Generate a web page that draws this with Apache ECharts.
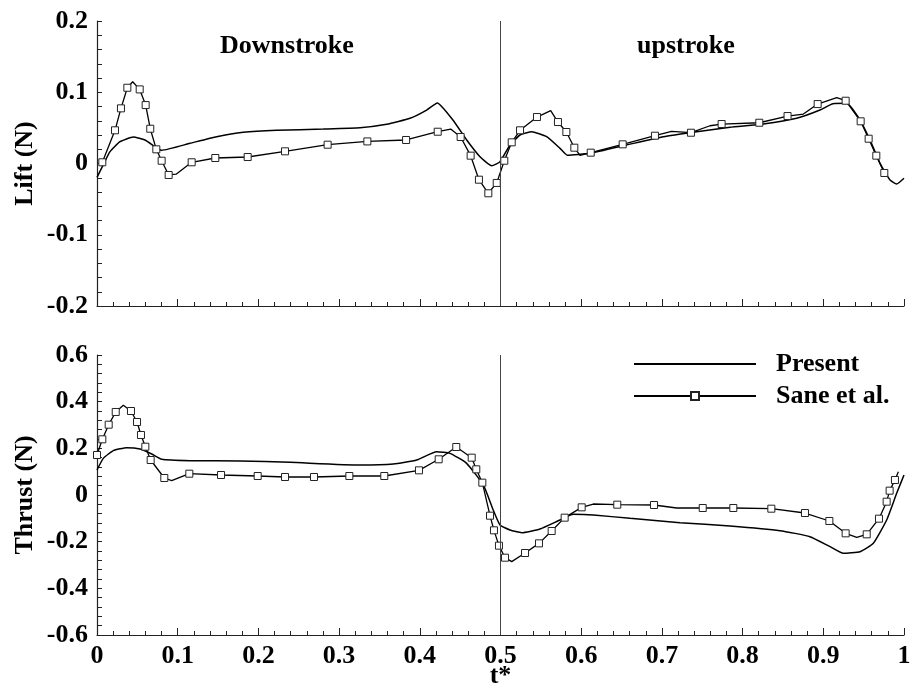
<!DOCTYPE html>
<html>
<head>
<meta charset="utf-8">
<script src="https://cdn.jsdelivr.net/npm/echarts@6/dist/echarts.min.js"></script>
<style>
html,body{margin:0;padding:0;background:#fff;}
#chart{width:914px;height:698px;}
</style>
</head>
<body>
<div id="chart"></div>
<script>
// ---- x ticks ----
const xTicks = [0, 0.1, 0.2, 0.3, 0.4, 0.5, 0.6, 0.7, 0.8, 0.9, 1];
const liftTicks = [-0.2, -0.1, 0, 0.1, 0.2];
const thrustTicks = [-0.6, -0.4, -0.2, 0, 0.2, 0.4, 0.6];
const seriesNames = ['Present', 'Sane et al.'];
const phaseLabels = ['Downstroke', 'upstroke'];

// ---- Lift: Present ----
const presentLiftT = [0, 0.0066, 0.0161, 0.0285, 0.045, 0.0595, 0.0719, 0.0801, 0.1152, 0.1483, 0.1813, 0.2226, 0.2804, 0.3259, 0.359, 0.3879, 0.4085, 0.4217, 0.441, 0.4581, 0.4746, 0.4891, 0.4994, 0.5118, 0.5242, 0.5386, 0.5572, 0.5737, 0.5828, 0.6109, 0.6564, 0.7018, 0.7431, 0.7844, 0.8257, 0.867, 0.8959, 0.912, 0.929, 0.9455, 0.9579, 0.9703, 0.9827, 0.9909, 1.0];
const presentLiftV = [-0.0194, -0.0045, 0.0166, 0.0306, 0.0372, 0.033, 0.0236, 0.0185, 0.0283, 0.0376, 0.0437, 0.0466, 0.0484, 0.0502, 0.055, 0.0634, 0.075, 0.0849, 0.061, 0.033, 0.0095, -0.0032, 0.0025, 0.026, 0.04, 0.0446, 0.0376, 0.0213, 0.0115, 0.0143, 0.026, 0.0376, 0.0446, 0.0508, 0.0554, 0.0634, 0.075, 0.084, 0.0844, 0.061, 0.033, 0.0003, -0.0231, -0.0288, -0.0208];

// ---- Lift: Sane et al. (mark = 1 where a square marker is drawn) ----
const saneLiftT = [0.0066, 0.0223, 0.0297, 0.0376, 0.0442, 0.0529, 0.0603, 0.066, 0.0735, 0.0801, 0.0888, 0.098, 0.1173, 0.1466, 0.1867, 0.233, 0.2858, 0.335, 0.383, 0.4222, 0.4383, 0.4506, 0.463, 0.4733, 0.4849, 0.4953, 0.5047, 0.5139, 0.5242, 0.5452, 0.5622, 0.5712, 0.5816, 0.5915, 0.5985, 0.6118, 0.6514, 0.6914, 0.712, 0.736, 0.7596, 0.774, 0.8207, 0.8557, 0.8753, 0.893, 0.9166, 0.9277, 0.9463, 0.9562, 0.9657, 0.9756];
const saneLiftV = [0.0017, 0.0466, 0.0774, 0.1063, 0.1147, 0.104, 0.082, 0.0488, 0.0199, 0.0039, -0.0161, -0.015, 0.0017, 0.0077, 0.0091, 0.0171, 0.0264, 0.031, 0.033, 0.0446, 0.0484, 0.0372, 0.011, -0.0227, -0.0418, -0.0273, 0.0039, 0.0297, 0.0466, 0.0652, 0.0741, 0.0582, 0.0442, 0.0222, 0.0115, 0.0152, 0.0269, 0.039, 0.0452, 0.0432, 0.053, 0.0554, 0.0572, 0.0666, 0.0694, 0.0834, 0.0923, 0.0881, 0.0592, 0.0348, 0.011, -0.0133];
const saneLiftMark = [1, 1, 1, 1, 0, 1, 1, 1, 1, 1, 1, 0, 1, 1, 1, 1, 1, 1, 1, 1, 0, 1, 1, 1, 1, 1, 1, 1, 1, 1, 0, 1, 1, 1, 0, 1, 1, 1, 0, 1, 0, 1, 1, 1, 0, 1, 0, 1, 1, 1, 1, 1];

// ---- Thrust: Present ----
const presentThrustT = [0, 0.0078, 0.0202, 0.0368, 0.0533, 0.0678, 0.0801, 0.1152, 0.1772, 0.2392, 0.3259, 0.3672, 0.3961, 0.4209, 0.4374, 0.458, 0.4787, 0.491, 0.4994, 0.5118, 0.5262, 0.5489, 0.5737, 0.5902, 0.615, 0.6605, 0.7224, 0.7844, 0.8463, 0.8835, 0.9083, 0.9248, 0.9455, 0.962, 0.9785, 0.9909, 1.0];
const presentThrustV = [0.107, 0.157, 0.19, 0.2029, 0.1971, 0.1757, 0.153, 0.147, 0.1457, 0.14, 0.1286, 0.1329, 0.15, 0.1857, 0.1786, 0.1357, 0.0429, -0.0643, -0.1286, -0.15, -0.1614, -0.1457, -0.1071, -0.0829, -0.0857, -0.1, -0.1186, -0.1329, -0.1529, -0.1786, -0.2214, -0.25, -0.2429, -0.2072, -0.1071, 0.0071, 0.0857];

// ---- Thrust: Sane et al. ----
const saneThrustT = [0, 0.0066, 0.0145, 0.0232, 0.0326, 0.0421, 0.0496, 0.0545, 0.0599, 0.0665, 0.0834, 0.0925, 0.1144, 0.1537, 0.1991, 0.233, 0.2689, 0.3127, 0.356, 0.399, 0.4234, 0.4452, 0.4643, 0.47, 0.4775, 0.487, 0.4919, 0.4981, 0.5056, 0.5139, 0.5304, 0.5477, 0.5634, 0.5795, 0.6006, 0.615, 0.6447, 0.6902, 0.7183, 0.7506, 0.7885, 0.8356, 0.8773, 0.9075, 0.9277, 0.9414, 0.9538, 0.969, 0.9785, 0.9822, 0.9888, 0.993];
const saneThrustV = [0.1714, 0.2386, 0.3014, 0.3558, 0.3843, 0.36, 0.3129, 0.2572, 0.207, 0.15, 0.0729, 0.0613, 0.0913, 0.0857, 0.0814, 0.0772, 0.0772, 0.0814, 0.0814, 0.1057, 0.153, 0.2057, 0.16, 0.11, 0.0529, -0.0886, -0.1514, -0.2171, -0.2686, -0.2857, -0.2486, -0.2072, -0.1543, -0.0971, -0.0529, -0.0386, -0.0414, -0.0429, -0.0557, -0.0557, -0.0557, -0.0586, -0.0772, -0.1114, -0.1643, -0.1814, -0.1686, -0.1014, -0.0286, 0.0186, 0.0643, 0.1];
const saneThrustMark = [1, 1, 1, 1, 0, 1, 1, 1, 1, 1, 1, 0, 1, 1, 1, 1, 1, 1, 1, 1, 1, 1, 1, 1, 1, 1, 1, 1, 1, 0, 1, 1, 1, 1, 1, 0, 1, 1, 0, 1, 1, 1, 1, 1, 1, 0, 1, 1, 1, 1, 1, 0];

// ---- build ----
const FONT = "'Liberation Serif', 'Times New Roman', serif";
function pairs(t, v) { return t.map((x, i) => [x, v[i]]); }
function marked(t, v, m) {
  return t.map((x, i) => m[i] ? [x, v[i]] : { value: [x, v[i]], symbol: 'none' });
}
function fmt(v) { return String(Math.round(v * 10) / 10); }

function xAxisCfg(gridIndex, showLabels) {
  return {
    type: 'value', gridIndex: gridIndex, min: xTicks[0], max: xTicks[xTicks.length - 1], interval: 0.1,
    axisLine: { show: true, onZero: false, lineStyle: { color: '#222', width: 1.2 } },
    axisTick: { show: true, inside: true, length: 7, lineStyle: { color: '#222', width: 1 } },
    minorTick: { show: true, splitNumber: 5, length: 4, lineStyle: { color: '#222', width: 1 } },
    splitLine: { show: false },
    axisLabel: { show: showLabels, margin: 8, fontFamily: FONT, fontWeight: 'bold', fontSize: 26, color: '#000', formatter: fmt, showMinLabel: true, showMaxLabel: true },
    name: showLabels ? 't*' : '', nameLocation: 'middle', nameGap: 28, nameMoveOverlap: false,
    nameTextStyle: { fontFamily: FONT, fontWeight: 'bold', fontSize: 26, color: '#000' }
  };
}
function yAxisCfg(gridIndex, ticks, interval, name) {
  return {
    type: 'value', gridIndex: gridIndex, min: ticks[0], max: ticks[ticks.length - 1], interval: interval,
    axisLine: { show: true, onZero: false, lineStyle: { color: '#222', width: 1.2 } },
    axisTick: { show: true, inside: true, length: 5, lineStyle: { color: '#222', width: 1 } },
    minorTick: { show: true, splitNumber: 5, length: 5, lineStyle: { color: '#222', width: 1 } },
    splitLine: { show: false },
    axisLabel: { margin: 9, fontFamily: FONT, fontWeight: 'bold', fontSize: 26, color: '#000', formatter: fmt },
    name: name, nameLocation: 'middle', nameGap: 59, nameRotate: 90, nameMoveOverlap: false,
    nameTextStyle: { fontFamily: FONT, fontWeight: 'bold', fontSize: 26, color: '#000' }
  };
}
const vline = {
  silent: true, symbol: ['none', 'none'], label: { show: false },
  lineStyle: { color: '#444', width: 1, type: 'solid' },
  data: [{ xAxis: 0.5 }], animation: false
};
function presentSeries(xi, data) {
  return { name: seriesNames[0], type: 'line', xAxisIndex: xi, yAxisIndex: xi, data: data,
    symbol: 'none', showSymbol: false, smooth: 0.15, lineStyle: { color: '#000', width: 1.5 },
    itemStyle: { color: '#000' }, markLine: vline, z: 3 };
}
function saneSeries(xi, data) {
  return { name: seriesNames[1], type: 'line', xAxisIndex: xi, yAxisIndex: xi, data: data,
    symbol: 'rect', symbolSize: 7, showSymbol: true, showAllSymbol: true, smooth: false,
    lineStyle: { color: '#000', width: 1.3 },
    itemStyle: { color: '#fff', borderColor: '#222', borderWidth: 1 }, z: 4 };
}

const chart = echarts.init(document.getElementById('chart'), null, { renderer: 'canvas' });
chart.setOption({
  animation: false,
  backgroundColor: '#fff',
  grid: [
    { left: 97, right: 10, top: 21, height: 285, containLabel: false },
    { left: 97, right: 10, top: 355, height: 280, containLabel: false }
  ],
  xAxis: [xAxisCfg(0, false), xAxisCfg(1, true)],
  yAxis: [yAxisCfg(0, liftTicks, 0.1, 'Lift (N)'), yAxisCfg(1, thrustTicks, 0.2, 'Thrust (N)')],
  legend: {
    data: [{ name: seriesNames[0], itemStyle: { opacity: 0 } }, { name: seriesNames[1] }],
    orient: 'vertical', left: 628, top: 346,
    itemWidth: 122, itemHeight: 10, itemGap: 6,
    textStyle: { fontFamily: FONT, fontWeight: 'bold', fontSize: 26, color: '#000', lineHeight: 26, padding: [0, 0, 0, 15] }
  },
  graphic: [
    { type: 'text', left: 220, top: 33, style: { text: phaseLabels[0], fontFamily: FONT, fontWeight: 'bold', fontSize: 26, fill: '#000' } },
    { type: 'text', left: 637, top: 33, style: { text: phaseLabels[1], fontFamily: FONT, fontWeight: 'bold', fontSize: 26, fill: '#000' } }
  ],
  series: [
    presentSeries(0, pairs(presentLiftT, presentLiftV)),
    saneSeries(0, marked(saneLiftT, saneLiftV, saneLiftMark)),
    presentSeries(1, pairs(presentThrustT, presentThrustV)),
    saneSeries(1, marked(saneThrustT, saneThrustV, saneThrustMark))
  ]
});
</script>
</body>
</html>
